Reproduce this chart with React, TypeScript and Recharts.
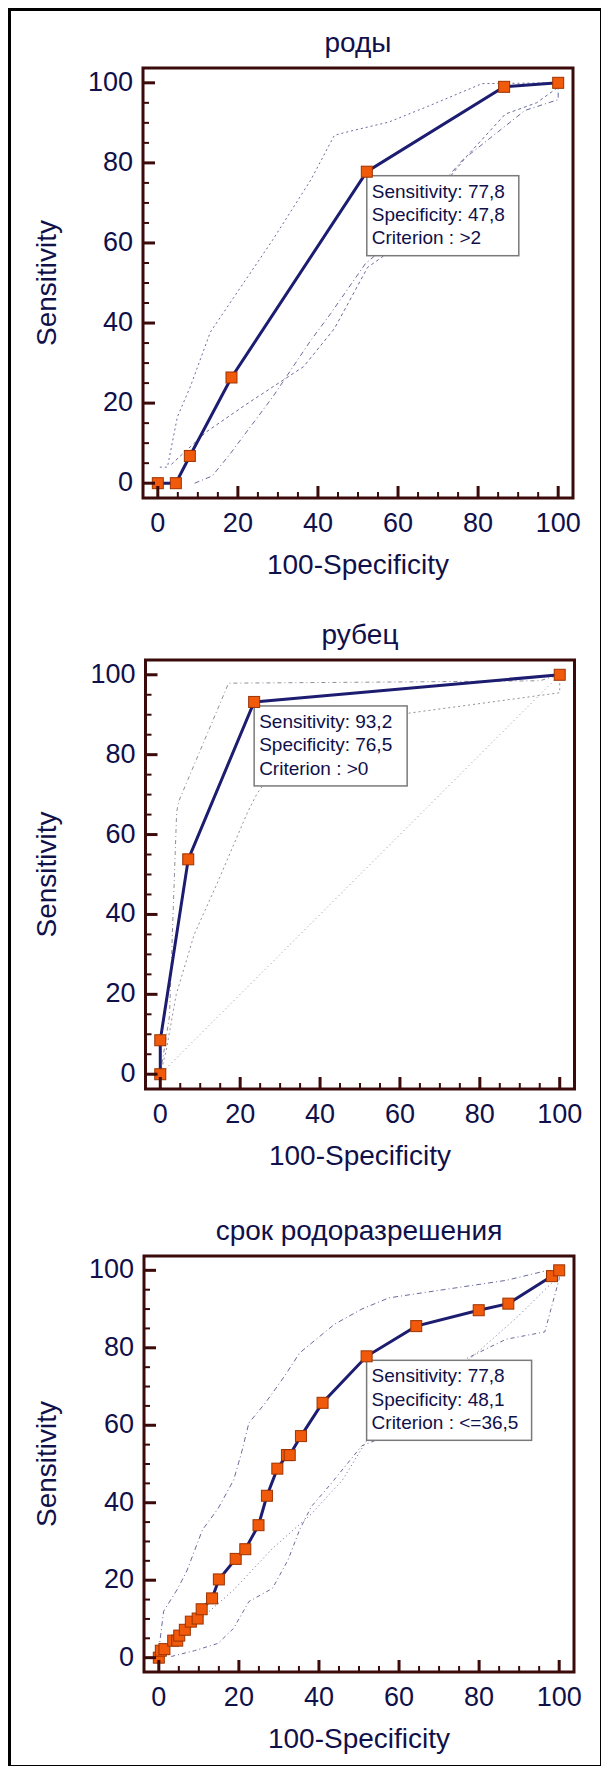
import React from 'react';
import { LineChart, Line, XAxis, YAxis, ReferenceArea, ReferenceDot } from 'recharts';

// ticks: minor every 5, labelled every 20
const axisTicks = [0, 5, 10, 15, 20, 25, 30, 35, 40, 45, 50, 55, 60, 65, 70, 75, 80, 85, 90, 95, 100];

// --- роды ---
const rodyFpr = [0, 4.5, 8.0, 18.4, 52.2, 86.5, 100];
const rodySens = [0, 0, 6.8, 26.4, 77.8, 99.0, 100];
const rodyUpperX = [0.5, 2.4, 4.9, 8.2, 13.1, 18.9, 28.6, 38.3, 44.1, 48, 57.7, 67.4, 81, 100];
const rodyUpperY = [4.0, 4.0, 16.6, 24.3, 37.7, 46.3, 60.6, 75.9, 86.9, 87.9, 90.2, 94.1, 99.8, 100];
const rodyLowerX = [9.2, 13.6, 17.9, 28.6, 38.3, 43.2, 51.9, 57.7, 76.1, 91.7, 100, 100];
const rodyLowerY = [0, 1.8, 7.1, 21.4, 35.8, 42.4, 54.9, 59.7, 80.7, 93.1, 95.8, 100];
const rodyMidX = [3.4, 12.1, 21.8, 36.4, 44.1, 52.4, 57.7, 77.1, 86.8, 94.6, 100];
const rodyMidY = [4.7, 12.8, 19.5, 29.1, 38.6, 53.9, 57.7, 81.6, 92.2, 95, 98.9];

// --- рубец ---
const rubecFpr = [0, 0, 7.0, 23.5, 100];
const rubecSens = [0, 8.5, 53.8, 93.2, 100];
const rubecUpperX = [0, 2.3, 4.1, 4.7, 17.1, 60, 95, 100];
const rubecUpperY = [0, 14.5, 65.7, 68.5, 97.9, 98.2, 98.5, 100];
const rubecLowerX = [0, 1.5, 4, 8.5, 14.2, 21.9, 24.3, 30, 58.6, 100, 100];
const rubecLowerY = [0, 6, 20, 35, 47.7, 65.7, 70.4, 78, 89.9, 95.5, 100];
const rubecDiagX = [0, 100];
const rubecDiagY = [0, 100];

// --- срок родоразрешения ---
const srokFpr = [0, 0.5, 1.4, 3.6, 4.6, 5.1, 6.5, 8.0, 9.7, 10.7, 13.3, 15.0, 19.2, 21.6, 24.9, 27.0, 29.6, 32.0, 32.7, 35.5, 40.9, 51.9, 64.3, 79.9, 87.3, 98.2, 100];
const srokSens = [0, 1.8, 2.2, 4.4, 4.4, 5.7, 7.2, 9.3, 10.1, 12.5, 15.3, 20.2, 25.5, 28.0, 34.2, 41.8, 48.8, 52.3, 52.3, 57.2, 65.8, 77.8, 85.6, 89.7, 91.4, 98.5, 100];
const srokUpperX = [0, 1.2, 4.6, 7, 10.9, 14.8, 18.7, 20.6, 22.5, 26.4, 29.3, 31.8, 35.2, 43.9, 50.7, 57.5, 67.2, 86.7, 96.4, 100];
const srokUpperY = [2, 12, 17.6, 22.4, 33, 38.5, 45.9, 52.7, 60.6, 65.5, 69.6, 73.3, 78.7, 86.1, 90, 92.9, 94.4, 97.4, 99.8, 100];
const srokLowerX = [3.1, 8.9, 14.8, 18.7, 22.5, 28.4, 32.3, 35.2, 38.1, 43, 50.7, 55.6, 77, 86.7, 96.4, 100, 100];
const srokLowerY = [0.3, 1.8, 3.7, 7.6, 14.5, 17.9, 25.3, 33.1, 39, 44.9, 54.7, 56.7, 77.3, 82.2, 84.1, 97.8, 100];
const srokMidX = [1.2, 8.9, 18.7, 28.4, 38.1, 45.9, 51.7, 57.5, 78.9, 89.6, 98.3, 100];
const srokMidY = [1.8, 8.6, 17.5, 28.2, 37.1, 45.9, 55.7, 59.6, 78.2, 88, 96.9, 100];

const FONT = '"Liberation Sans", Arial, Helvetica, sans-serif';
const INK = '#10104a';
const FRAME = '#3b0a0a';
const ROC = '#1c1c70';
const DOMAIN: [number, number] = [-3.7, 103.7];

const zip = (xs: number[], ys: number[]) => xs.map((x, i) => ({ x, y: ys[i] }));
const fmt = (v: number) => v.toFixed(1).replace('.', ',');

function XTick(props: any) {
  const { x, y, payload } = props;
  const v = payload.value;
  const major = v % 20 === 0;
  return (
    <g>
      <line x1={x} x2={x} y1={y} y2={y - (major ? 12 : 6)} stroke={FRAME} strokeWidth={major ? 3 : 2} />
      {major && (
        <text x={x} y={y + 34} textAnchor="middle" fontSize={27} fill={INK} fontFamily={FONT}>
          {v}
        </text>
      )}
    </g>
  );
}

function YTick(props: any) {
  const { x, y, payload } = props;
  const v = payload.value;
  const major = v % 20 === 0;
  return (
    <g>
      <line x1={x} x2={x + (major ? 12 : 6)} y1={y} y2={y} stroke={FRAME} strokeWidth={major ? 3 : 2} />
      {major && (
        <text x={x - 10} y={y + 8} textAnchor="end" fontSize={27} fill={INK} fontFamily={FONT}>
          {v}
        </text>
      )}
    </g>
  );
}

function SquareDot(props: any) {
  const { cx, cy } = props;
  if (cx == null || cy == null) return <g />;
  return <rect x={cx - 5.5} y={cy - 5.5} width={11} height={11} fill="#f05a0a" stroke="#9c3300" strokeWidth={1} />;
}

function CutoffBox(props: any) {
  const { cx, cy, lines, boxWidth } = props;
  const top = cy + 4;
  return (
    <g>
      <rect x={cx} y={top} width={boxWidth} height={80} fill="#fff" stroke="#7a7a7a" strokeWidth={1.5} />
      {lines.map((t: string, i: number) => (
        <text key={i} x={cx + 5} y={top + 22 + i * 23.4} fontSize={19} fill={INK} fontFamily={FONT}>
          {t}
        </text>
      ))}
    </g>
  );
}

type Band = { data: { x: number; y: number }[]; color: string; dash: string };

function RocPanel(props: {
  title: string;
  left: number;
  top: number;
  w: number;
  h: number;
  roc: { x: number; y: number }[];
  bands: Band[];
  cutX: number;
  cutY: number;
  spec: number;
  criterion: string;
  boxWidth: number;
}) {
  const { title, left, top, w, h, roc, bands, cutX, cutY, spec, criterion, boxWidth } = props;
  const width = 609;
  const height = 68 + h + 100;
  const lines = [`Sensitivity: ${fmt(cutY)}`, `Specificity: ${fmt(spec)}`, `Criterion : ${criterion}`];
  return (
    <div style={{ position: 'absolute', left: 0, top: top - 68, width, height }}>
      <div
        style={{
          position: 'absolute',
          left,
          width: w,
          top: 29,
          textAlign: 'center',
          fontFamily: FONT,
          fontSize: 28,
          lineHeight: '28px',
          color: INK,
          whiteSpace: 'nowrap',
        }}
      >
        {title}
      </div>
      <LineChart width={width} height={height} margin={{ top: 68, left: 0, right: width - left - w, bottom: 0 }}>
        <XAxis
          type="number"
          dataKey="x"
          domain={DOMAIN}
          ticks={axisTicks}
          interval={0}
          allowDataOverflow
          height={100}
          axisLine={false}
          tickLine={false}
          tickSize={0}
          tickMargin={0}
          tick={<XTick />}
          label={{
            value: '100-Specificity',
            position: 'insideBottom',
            offset: 24,
            fill: INK,
            fontSize: 28,
            fontFamily: FONT,
          }}
        />
        <YAxis
          type="number"
          dataKey="y"
          domain={DOMAIN}
          ticks={axisTicks}
          interval={0}
          allowDataOverflow
          width={left}
          axisLine={false}
          tickLine={false}
          tickSize={0}
          tickMargin={0}
          tick={<YTick />}
          label={{
            value: 'Sensitivity',
            angle: -90,
            position: 'insideLeft',
            offset: 46,
            fill: INK,
            fontSize: 28,
            fontFamily: FONT,
            style: { textAnchor: 'middle' },
          }}
        />
        <ReferenceArea
          x1={DOMAIN[0]}
          x2={DOMAIN[1]}
          y1={DOMAIN[0]}
          y2={DOMAIN[1]}
          fill="none"
          stroke={FRAME}
          strokeWidth={3}
          ifOverflow="visible"
        />
        {bands.map((b, i) => (
          <Line
            key={i}
            data={b.data}
            dataKey="y"
            type="linear"
            stroke={b.color}
            strokeWidth={1}
            strokeDasharray={b.dash}
            dot={false}
            activeDot={false}
            isAnimationActive={false}
          />
        ))}
        <ReferenceDot
          x={cutX}
          y={cutY}
          r={0}
          ifOverflow="visible"
          shape={(p: any) => <CutoffBox {...p} lines={lines} boxWidth={boxWidth} />}
        />
        <Line
          data={roc}
          dataKey="y"
          type="linear"
          stroke={ROC}
          strokeWidth={3}
          dot={SquareDot}
          activeDot={false}
          isAnimationActive={false}
        />
      </LineChart>
    </div>
  );
}

export default function App() {
  const blue = '#6b6b9b';
  const grey = '#8f8f9a';
  return (
    <div style={{ position: 'relative', width: 593, height: 1758, background: '#fff' }}>
      <div
        style={{
          position: 'absolute',
          left: 0,
          top: 0,
          width: 595,
          height: 1760,
          border: '3px solid #000',
          boxSizing: 'border-box',
        }}
      />
      <div style={{ position: 'absolute', left: -8, top: -8 }}>
        <RocPanel
          title="роды"
          left={143}
          top={68}
          w={430}
          h={430}
          roc={zip(rodyFpr, rodySens)}
          bands={[
            { data: zip(rodyUpperX, rodyUpperY), color: blue, dash: '2 3' },
            { data: zip(rodyLowerX, rodyLowerY), color: blue, dash: '5 3 1 3' },
            { data: zip(rodyMidX, rodyMidY), color: blue, dash: '3 3' },
          ]}
          cutX={52.2}
          cutY={77.8}
          spec={47.8}
          criterion=">2"
          boxWidth={152}
        />
        <RocPanel
          title="рубец"
          left={145.5}
          top={660}
          w={429}
          h={429}
          roc={zip(rubecFpr, rubecSens)}
          bands={[
            { data: zip(rubecUpperX, rubecUpperY), color: grey, dash: '4 3 1 3' },
            { data: zip(rubecLowerX, rubecLowerY), color: grey, dash: '2 3' },
            { data: zip(rubecDiagX, rubecDiagY), color: grey, dash: '1 3' },
          ]}
          cutX={23.5}
          cutY={93.2}
          spec={76.5}
          criterion=">0"
          boxWidth={153}
        />
        <RocPanel
          title="срок родоразрешения"
          left={144}
          top={1256}
          w={430}
          h={416}
          roc={zip(srokFpr, srokSens)}
          bands={[
            { data: zip(srokUpperX, srokUpperY), color: blue, dash: '5 3 1 3' },
            { data: zip(srokLowerX, srokLowerY), color: blue, dash: '4 3 1 3' },
            { data: zip(srokMidX, srokMidY), color: blue, dash: '1 3' },
          ]}
          cutX={51.9}
          cutY={77.8}
          spec={48.1}
          criterion="<=36,5"
          boxWidth={165}
        />
      </div>
    </div>
  );
}
